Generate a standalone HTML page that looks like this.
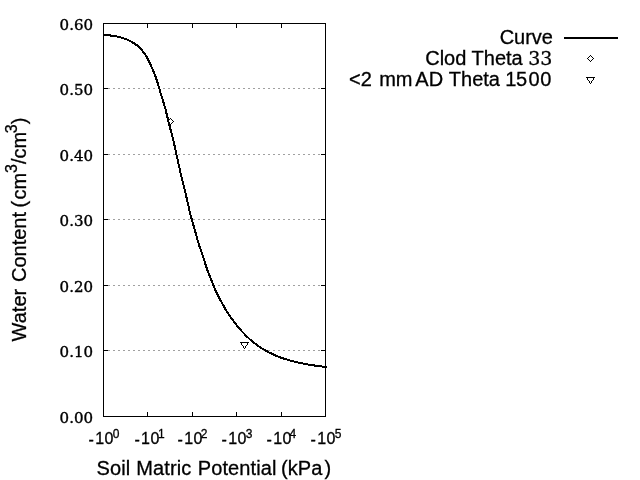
<!DOCTYPE html>
<html><head><meta charset="utf-8"><title>Water Retention Curve</title>
<style>html,body{margin:0;padding:0;background:#fff;overflow:hidden;} svg{display:block;filter:grayscale(1);}</style></head>
<body><svg width="640" height="480" viewBox="0 0 640 480" shape-rendering="crispEdges">
<rect width="640" height="480" fill="#fff"/>
<line x1="103" y1="350.5" x2="325" y2="350.5" stroke="#a0a0a0" stroke-width="1" stroke-dasharray="2 3"/>
<line x1="103" y1="285.5" x2="325" y2="285.5" stroke="#a0a0a0" stroke-width="1" stroke-dasharray="2 3"/>
<line x1="103" y1="219.5" x2="325" y2="219.5" stroke="#a0a0a0" stroke-width="1" stroke-dasharray="2 3"/>
<line x1="103" y1="154.5" x2="325" y2="154.5" stroke="#a0a0a0" stroke-width="1" stroke-dasharray="2 3"/>
<line x1="103" y1="88.5" x2="325" y2="88.5" stroke="#a0a0a0" stroke-width="1" stroke-dasharray="2 3"/>
<g fill="#000">
<rect x="103" y="23" width="223" height="1"/><rect x="103" y="416" width="223" height="1"/><rect x="103" y="23" width="1" height="394"/><rect x="325" y="23" width="1" height="394"/>
<rect x="103" y="416" width="5" height="1"/><rect x="321" y="416" width="5" height="1"/>
<rect x="103" y="350" width="5" height="1"/><rect x="321" y="350" width="5" height="1"/>
<rect x="103" y="285" width="5" height="1"/><rect x="321" y="285" width="5" height="1"/>
<rect x="103" y="219" width="5" height="1"/><rect x="321" y="219" width="5" height="1"/>
<rect x="103" y="154" width="5" height="1"/><rect x="321" y="154" width="5" height="1"/>
<rect x="103" y="88" width="5" height="1"/><rect x="321" y="88" width="5" height="1"/>
<rect x="103" y="23" width="5" height="1"/><rect x="321" y="23" width="5" height="1"/>
<rect x="103" y="412" width="1" height="5"/><rect x="103" y="23" width="1" height="5"/>
<rect x="147" y="412" width="1" height="5"/><rect x="147" y="23" width="1" height="5"/>
<rect x="192" y="412" width="1" height="5"/><rect x="192" y="23" width="1" height="5"/>
<rect x="236" y="412" width="1" height="5"/><rect x="236" y="23" width="1" height="5"/>
<rect x="281" y="412" width="1" height="5"/><rect x="281" y="23" width="1" height="5"/>
<rect x="325" y="412" width="1" height="5"/><rect x="325" y="23" width="1" height="5"/>
<rect x="170" y="118" width="1" height="1"/><rect x="169" y="119" width="1" height="1"/><rect x="171" y="119" width="1" height="1"/><rect x="168" y="120" width="1" height="1"/><rect x="172" y="120" width="1" height="1"/><rect x="167" y="121" width="1" height="1"/><rect x="173" y="121" width="1" height="1"/><rect x="168" y="122" width="1" height="1"/><rect x="172" y="122" width="1" height="1"/><rect x="169" y="123" width="1" height="1"/><rect x="171" y="123" width="1" height="1"/><rect x="170" y="124" width="1" height="1"/>
<rect x="240" y="342" width="9" height="1"/><rect x="241" y="343" width="1" height="1"/><rect x="247" y="343" width="1" height="1"/><rect x="241" y="344" width="1" height="1"/><rect x="247" y="344" width="1" height="1"/><rect x="242" y="345" width="1" height="1"/><rect x="246" y="345" width="1" height="1"/><rect x="243" y="346" width="1" height="1"/><rect x="245" y="346" width="1" height="1"/><rect x="243" y="347" width="1" height="1"/><rect x="245" y="347" width="1" height="1"/><rect x="244" y="348" width="1" height="1"/>
<rect x="590" y="55" width="1" height="1"/><rect x="589" y="56" width="1" height="1"/><rect x="591" y="56" width="1" height="1"/><rect x="588" y="57" width="1" height="1"/><rect x="592" y="57" width="1" height="1"/><rect x="587" y="58" width="1" height="1"/><rect x="593" y="58" width="1" height="1"/><rect x="588" y="59" width="1" height="1"/><rect x="592" y="59" width="1" height="1"/><rect x="589" y="60" width="1" height="1"/><rect x="591" y="60" width="1" height="1"/><rect x="590" y="61" width="1" height="1"/>
<rect x="586" y="77" width="9" height="1"/><rect x="587" y="78" width="1" height="1"/><rect x="593" y="78" width="1" height="1"/><rect x="587" y="79" width="1" height="1"/><rect x="593" y="79" width="1" height="1"/><rect x="588" y="80" width="1" height="1"/><rect x="592" y="80" width="1" height="1"/><rect x="589" y="81" width="1" height="1"/><rect x="591" y="81" width="1" height="1"/><rect x="589" y="82" width="1" height="1"/><rect x="591" y="82" width="1" height="1"/><rect x="590" y="83" width="1" height="1"/>
<rect x="564" y="37" width="54" height="2"/>
</g>
<polyline points="103.0,34.7 104.5,34.8 106.0,35.0 107.5,35.1 109.0,35.3 110.5,35.5 111.9,35.7 113.5,35.9 114.9,36.2 116.4,36.4 117.9,36.8 119.3,37.1 120.8,37.5 122.2,37.9 123.6,38.3 125.0,38.8 126.4,39.3 127.8,39.9 129.2,40.5 130.5,41.2 131.9,41.9 133.1,42.7 134.4,43.5 135.6,44.4 136.9,45.3 138.0,46.3 139.1,47.3 140.2,48.4 141.2,49.5 142.2,50.6 143.2,51.8 144.1,53.0 145.0,54.2 145.8,55.5 146.6,56.8 147.3,58.1 148.0,59.4 148.7,60.7 149.4,62.1 150.1,63.5 150.7,64.9 151.3,66.3 151.9,67.7 152.5,69.1 153.1,70.4 153.7,71.8 154.2,73.2 154.8,74.6 155.3,75.9 155.8,77.4 156.3,78.8 156.8,80.2 157.3,81.7 157.7,83.1 158.1,84.5 158.6,86.0 159.0,87.4 159.4,88.8 159.8,90.2 160.2,91.7 160.6,93.2 161.0,94.7 161.5,96.2 161.9,97.5 162.4,99.0 162.8,100.4 163.3,101.8 163.7,103.2 164.1,104.6 164.6,106.2 165.0,107.4 165.4,108.9 165.8,110.4 166.2,111.9 166.5,113.4 166.9,114.9 167.2,116.2 167.6,117.8 167.9,119.1 168.3,120.7 168.6,122.0 169.0,123.6 169.4,125.0 169.7,126.4 170.2,128.0 170.5,129.4 170.9,130.7 171.3,132.4 171.6,133.8 172.0,135.2 172.4,136.6 172.7,138.0 173.1,139.4 173.5,141.1 173.8,142.6 174.2,144.0 174.5,145.4 174.9,146.9 175.2,148.3 175.5,149.8 175.8,151.3 176.1,152.7 176.4,154.2 176.7,155.6 177.1,157.1 177.4,158.6 177.7,160.0 178.0,161.5 178.3,163.0 178.6,164.4 179.0,165.9 179.3,167.4 179.6,168.8 179.9,170.3 180.2,171.8 180.6,173.2 180.9,174.7 181.2,176.1 181.6,177.6 181.9,179.0 182.3,180.4 182.7,182.1 183.1,183.5 183.4,184.9 183.8,186.4 184.2,187.8 184.6,189.2 184.9,190.6 185.3,192.2 185.6,193.6 186.0,195.0 186.3,196.4 186.6,198.0 187.0,199.4 187.3,200.8 187.6,202.4 187.9,203.8 188.3,205.4 188.6,206.7 188.9,208.3 189.2,209.6 189.6,211.2 189.9,212.5 190.3,214.1 190.7,215.6 191.1,217.1 191.5,218.4 191.9,219.8 192.4,221.3 192.8,222.8 193.2,224.2 193.6,225.7 194.0,227.1 194.4,228.5 194.8,230.0 195.2,231.4 195.6,232.8 196.0,234.4 196.4,235.8 196.8,237.1 197.2,238.7 197.6,240.0 198.0,241.6 198.4,242.9 198.8,244.4 199.3,245.9 199.8,247.3 200.3,248.7 200.8,250.2 201.3,251.6 201.8,253.0 202.3,254.3 202.8,255.7 203.3,257.2 203.7,258.6 204.1,259.9 204.6,261.4 205.0,262.9 205.5,264.4 205.9,265.7 206.4,267.1 206.8,268.5 207.4,270.1 207.9,271.4 208.4,272.8 209.0,274.3 209.5,275.6 210.0,277.0 210.6,278.4 211.2,279.8 211.7,281.2 212.3,282.6 212.8,283.9 213.4,285.4 213.9,286.7 214.5,288.1 215.1,289.5 215.7,290.9 216.4,292.2 217.0,293.5 217.7,295.0 218.4,296.3 219.0,297.6 219.7,298.9 220.5,300.3 221.2,301.6 221.9,302.9 222.6,304.2 223.4,305.5 224.1,306.8 224.8,308.1 225.6,309.4 226.4,310.7 227.2,311.9 228.0,313.2 228.9,314.5 229.7,315.7 230.5,316.9 231.4,318.2 232.2,319.4 233.1,320.6 234.0,321.8 234.9,323.0 235.8,324.2 236.8,325.4 237.7,326.5 238.7,327.6 239.7,328.8 240.6,329.9 241.6,331.0 242.6,332.1 243.7,333.2 244.7,334.3 245.7,335.3 246.8,336.4 247.9,337.5 249.0,338.5 250.1,339.5 251.2,340.5 252.3,341.4 253.5,342.4 254.7,343.3 255.9,344.3 257.1,345.1 258.3,346.0 259.6,346.9 260.8,347.7 262.1,348.5 263.4,349.3 264.7,350.0 265.9,350.7 267.3,351.5 268.6,352.2 269.9,352.8 271.3,353.5 272.6,354.1 274.0,354.8 275.3,355.4 276.7,356.0 278.1,356.5 279.5,357.1 280.9,357.6 282.3,358.1 283.8,358.6 285.2,359.0 286.7,359.5 288.1,359.9 289.5,360.4 291.0,360.8 292.4,361.2 293.8,361.5 295.3,361.9 296.7,362.3 298.2,362.6 299.7,363.0 301.2,363.3 302.6,363.5 304.1,363.8 305.6,364.1 307.0,364.4 308.6,364.6 310.0,364.8 311.5,365.1 313.0,365.3 314.4,365.5 316.0,365.7 317.4,365.9 318.9,366.2 320.4,366.4 321.9,366.5 323.4,366.7 324.9,366.9 326.4,367.1 327.0,367.1" fill="none" stroke="#000" stroke-width="2" stroke-linejoin="round"/>
<g font-family="DejaVu Serif, serif" font-size="15" text-anchor="end" fill="#000" stroke="#000" stroke-width="0.4">
<text x="93" y="423">0.00</text>
<text x="93" y="357">0.10</text>
<text x="93" y="292">0.20</text>
<text x="93" y="226">0.30</text>
<text x="93" y="161">0.40</text>
<text x="93" y="95">0.50</text>
<text x="93" y="30">0.60</text>
</g>
<g font-family="Liberation Sans, sans-serif" fill="#000" stroke="#000" stroke-width="0.3">
<text x="88.60" y="445" font-size="16">-</text>
<text x="95.17" y="444" font-size="16">1</text>
<text x="104.60" y="444" font-size="16">0</text>
<text x="112.80" y="437.5" font-size="12">0</text>
<text x="134.55" y="445" font-size="16">-</text>
<text x="141.12" y="444" font-size="16">1</text>
<text x="150.55" y="444" font-size="16">0</text>
<text x="157.90" y="437.5" font-size="12">1</text>
<text x="177.60" y="445" font-size="16">-</text>
<text x="184.17" y="444" font-size="16">1</text>
<text x="193.60" y="444" font-size="16">0</text>
<text x="200.70" y="437.5" font-size="12">2</text>
<text x="221.60" y="445" font-size="16">-</text>
<text x="228.17" y="444" font-size="16">1</text>
<text x="237.60" y="444" font-size="16">0</text>
<text x="245.80" y="437.5" font-size="12">3</text>
<text x="266.60" y="445" font-size="16">-</text>
<text x="273.17" y="444" font-size="16">1</text>
<text x="282.60" y="444" font-size="16">0</text>
<text x="289.45" y="437.5" font-size="12">4</text>
<text x="310.60" y="445" font-size="16">-</text>
<text x="317.17" y="444" font-size="16">1</text>
<text x="326.60" y="444" font-size="16">0</text>
<text x="334.80" y="437.5" font-size="12">5</text>
</g>
<g font-family="Liberation Sans, sans-serif" font-size="20" fill="#000" font-kerning="none" stroke="#000" stroke-width="0.3">
<text y="475" letter-spacing="0.12"><tspan x="96.5">Soil</tspan> <tspan x="136.3">Matric</tspan> <tspan x="197.7">Potential</tspan> <tspan x="280.9">(kPa</tspan><tspan x="324.6">)</tspan></text>
<text transform="translate(25.8 229.5) rotate(-90)"><tspan x="-111.9">Water</tspan> <tspan x="-52.5">Content</tspan> <tspan x="22.0">(</tspan><tspan x="29.95">cm</tspan><tspan font-size="16" font-family="Liberation Sans, sans-serif" dy="-8.5">3</tspan><tspan dy="8.5">/cm</tspan><tspan x="96.35" font-size="16" font-family="Liberation Sans, sans-serif" dy="-8.5">3</tspan><tspan dy="8.5">)</tspan></text>
<text x="553" y="43.7" text-anchor="end">Curve</text>
<text y="64.9"><tspan x="425.2">Clod</tspan> <tspan x="471.6">Theta</tspan> <tspan x="528.25" font-family="DejaVu Serif, serif" font-size="19">33</tspan></text>
<text y="86.0"><tspan x="349.0">&lt;2</tspan> <tspan x="379.2">mm</tspan> <tspan x="415.3">AD</tspan> <tspan x="448.85">Theta</tspan> <tspan x="505.2">1</tspan><tspan x="516.1">5</tspan><tspan x="528.5">0</tspan><tspan x="540.3">0</tspan></text>
</g>
</svg></body></html>
